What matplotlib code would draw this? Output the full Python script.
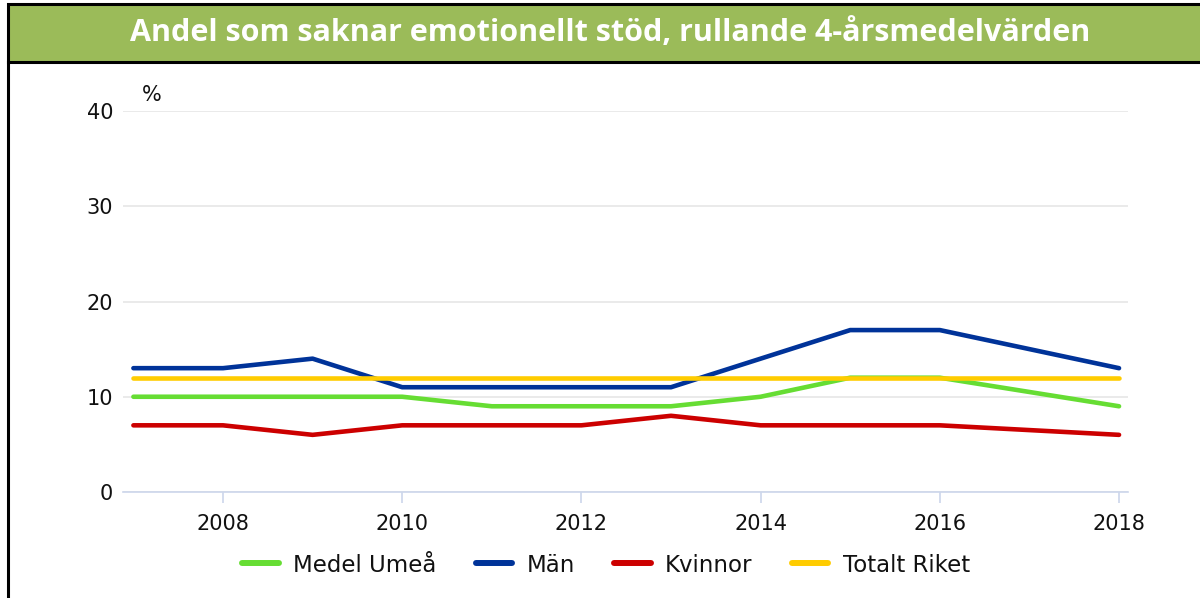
import matplotlib
matplotlib.use("Agg")
import matplotlib.pyplot as plt
from matplotlib.patches import Rectangle
from matplotlib.lines import Line2D

# data (2017 has no point, lines go straight 2016 -> 2018)
years = [2007, 2008, 2009, 2010, 2011, 2012, 2013, 2014, 2015, 2016, 2018]
medel_umea = [10, 10, 10, 10, 9, 9, 9, 10, 12, 12, 9]
man = [13, 13, 14, 11, 11, 11, 11, 14, 17, 17, 13]
kvinnor = [7, 7, 6, 7, 7, 7, 8, 7, 7, 7, 6]
totalt_riket = [12, 12, 12, 12, 12, 12, 12, 12, 12, 12, 12]

series = [
    ("Medel Umeå", medel_umea, "#66dd33"),
    ("Män", man, "#003399"),
    ("Kvinnor", kvinnor, "#cc0000"),
    ("Totalt Riket", totalt_riket, "#ffcc00"),
]
title = "Andel som saknar emotionellt stöd, rullande 4-årsmedelvärden"

W, H = 1200, 598
fig = plt.figure(figsize=(W / 100, H / 100), dpi=100)

# title banner
fig.patches.append(Rectangle((8 / W, 1 - 62 / H), 1.2, 58 / H, transform=fig.transFigure,
                             facecolor="#9bbb59", edgecolor="black", lw=2.2, zorder=0))
fig.lines.append(Line2D([8 / W, 8 / W], [0, 1 - 62 / H], transform=fig.transFigure,
                        color="black", lw=2.2))
fig.text(610 / W, 1 - 33 / H, title, ha="center", va="center", color="white",
         fontsize=22, fontweight="bold", family="Open Sans")

ax = fig.add_axes([123 / W, 106 / H, (1128 - 123) / W, (492 - 111) / H])
for name, vals, col in series:
    z = 3 if name == "Totalt Riket" else 2
    ax.plot(years, vals, color=col, lw=3.3, label=name, zorder=z, solid_capstyle="round")

ax.set_ylim(0, 40)
ax.set_xlim(2006.884, 2018.10)
ax.set_yticks([0, 10, 20, 30, 40])
ax.set_xticks([2008, 2010, 2012, 2014, 2016, 2018])
ax.grid(axis="y", color="#e6e6e6", lw=1.2)
ax.set_axisbelow(True)
for s in ["top", "right", "left"]:
    ax.spines[s].set_visible(False)
ax.spines["bottom"].set_color("#ccd6eb")
ax.spines["bottom"].set_linewidth(1.2)
ax.tick_params(axis="y", length=0, pad=7, labelsize=15)
ax.tick_params(axis="x", length=8, color="#ccd6eb", width=1.2, pad=8, labelsize=15)
for lab in ax.get_xticklabels() + ax.get_yticklabels():
    lab.set_color("#111111")
fig.text(152 / W, 1 - 95 / H, "%", ha="center", va="center", fontsize=15, color="#111111")

handles = [Line2D([], [], color=col, lw=4.3, solid_capstyle="round") for _, _, col in series]
fig.legend(handles, [s[0] for s in series], loc="center", bbox_to_anchor=(606 / W, 1 - 565 / H),
           ncol=4, frameon=False, fontsize=16.5, handlelength=1.6, handletextpad=0.63,
           columnspacing=1.7, labelcolor="#111111")

fig.savefig("out.png", dpi=100)
